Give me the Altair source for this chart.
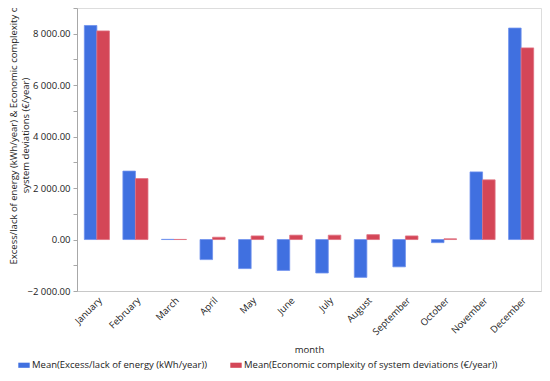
import altair as alt
import pandas as pd

months = ["January", "February", "March", "April", "May", "June", "July",
          "August", "September", "October", "November", "December"]
energy = [8320, 2660, 8, -780, -1130, -1200, -1300, -1470, -1060, -120, 2630, 8220]
cost = [8110, 2370, 5, 90, 140, 170, 170, 190, 140, 30, 2320, 7450]
series = ["Mean(Excess/lack of energy (kWh/year))",
          "Mean(Economic complexity of system deviations (€/year))"]
y_title = ["Excess/lack of energy (kWh/year) & Economic complexity o",
           "system deviations (€/year)"]

rows = []
for m, e, c in zip(months, energy, cost):
    rows.append({"month": m, "series": series[0], "value": e})
    rows.append({"month": m, "series": series[1], "value": c})
df = pd.DataFrame(rows)

FONT = "Open Sans"

chart = alt.Chart(df).mark_bar(strokeWidth=0.8).encode(
    x=alt.X("month:N", sort=months, title="month",
            scale=alt.Scale(paddingInner=0.35, paddingOuter=0.19),
            axis=alt.Axis(labelAngle=-45, labelAlign="right", labelBaseline="top",
                          ticks=False, domainColor="#c8c8c8", labelFontSize=9.5,
                          labelColor="#222222", titleFontSize=9.5, titleFontWeight="normal",
                          titleColor="#222222", labelPadding=4, titlePadding=8)),
    xOffset=alt.XOffset("series:N", sort=series, scale=alt.Scale(paddingInner=0, paddingOuter=0)),
    y=alt.Y("value:Q", title=y_title,
            scale=alt.Scale(domain=[-2000, 9000], nice=False, zero=False),
            axis=alt.Axis(values=list(range(-2000, 9001, 1000)),
                          labelExpr="datum.value % 2000 == 0 ? replace(format(datum.value, ',.2f'), ',', ' ') : ''",
                          grid=False, domainColor="#a8a8a8", tickColor="#a8a8a8", tickSize=4,
                          labelFontSize=9.5, labelColor="#222222", titleFontSize=9.5,
                          titleFontWeight="normal", titleColor="#222222", titleY=127,
                          titleX=-59, titleLineHeight=12, labelPadding=3)),
    color=alt.Color("series:N", sort=series,
                    scale=alt.Scale(domain=series, range=["#4070E0", "#D44657"]),
                    legend=alt.Legend(title=None, orient="none", direction="horizontal",
                                      legendX=-59, legendY=351,
                                      symbolType="M-1,-0.45H1V0.45H-1Z", symbolSize=130,
                                      symbolStrokeWidth=0, labelFontSize=9.5,
                                      labelColor="#222222", columnPadding=22,
                                      labelLimit=0, symbolOffset=0, labelOffset=2)),
    stroke=alt.Stroke("series:N", sort=series,
                      scale=alt.Scale(domain=series, range=["#6D90EE", "#E07080"]),
                      legend=None),
).properties(
    width=464, height=283,
    autosize=alt.AutoSizeParams(type="none"),
    padding={"left": 69, "top": 0, "right": 1, "bottom": 82}
).configure_view(
    stroke="#d0d0d0"
).configure(font=FONT)

chart.save("out.html", embed_options={"renderer": "svg", "actions": False})
